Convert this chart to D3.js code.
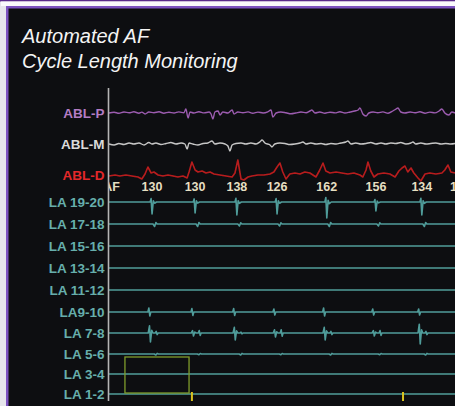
<!DOCTYPE html>
<html>
<head>
<meta charset="utf-8">
<script src="https://cdn.jsdelivr.net/npm/d3@7"></script>
<style>
  html, body { margin: 0; padding: 0; background: #e6e5ec; }
  svg { display: block; }
</style>
</head>
<body>
<div id="chart"></div>
<script>
const width = 455, height = 406;

const titleLines = ["Automated AF", "Cycle Length Monitoring"];
const ablChannels = ["ABL-P", "ABL-M", "ABL-D"];
const laChannels = ["LA 19-20", "LA 17-18", "LA 15-16", "LA 13-14", "LA 11-12",
                    "LA9-10", "LA 7-8", "LA 5-6", "LA 3-4", "LA 1-2"];

// window shown, ms
const timeWindow = [0, 1085];

// local activation times (ms) on LA 19-20
const activations = [135, 270, 401, 527, 683, 837, 981];

// cycle length annotations
const cycleTimes = [8, 135, 270, 401, 527, 683, 837, 981, 1102];
const cycleText = ["AF", "130", "130", "138", "126", "162", "156", "134", "148"];

// ablation catheter, [ms, amplitude]
const ablP = [[0,0],[16,0.8],[31,-0.3],[47,1],[63,0.2],[78,1.2],[94,-0.2],[103,0.9],[113,-1],[125,1],[141,0.3],[157,1.2],
  [172,-0.2],[188,0.8],[204,0],[219,1.1],[235,0.2],[241,4],[248,-5],[254,1],[266,0],[282,1.2],[298,0.1],[314,1],[320,-1],
  [326,-6],[332,1],[342,2],[348,-2],[357,1],[373,0],[386,3],[392,-1],[404,1],[420,0.2],[436,1.1],[451,-0.2],[467,0.9],
  [483,0],[498,1.2],[508,3],[514,-4],[524,0],[539,1],[555,0.2],[571,-0.8],[586,0],[602,1],[618,0.3],[630,2],[636,3],
  [646,0],[661,1],[677,-0.2],[693,0.8],[709,0.1],[724,1.2],[740,0],[756,1],[771,2],[781,3],[787,5],[796,-1],[806,-3],
  [815,0],[828,1],[843,0.2],[859,1.1],[875,-0.2],[890,2],[900,4],[906,5],[915,1],[928,0],[944,1],[959,0.2],[975,1.2],
  [991,-0.2],[1006,0.9],[1022,0.1],[1035,2],[1044,4],[1053,0],[1066,-2],[1075,1],[1085,0]];

const ablM = [[0,0],[16,-1],[31,0.5],[47,-0.5],[63,1],[78,0],[94,1],[110,-1],[125,1.5],[135,0],[147,1],[163,-0.5],
  [179,0.5],[194,1.5],[210,0],[226,1],[238,0],[245,-5],[251,1],[263,0],[279,-1],[295,0.5],[310,1],[323,3],[332,0],
  [348,1],[364,0],[373,-2],[379,-7],[386,-1],[398,0.5],[414,1],[429,0],[445,1],[461,0],[473,2],[480,4],[489,1],[505,-1],
  [511,-3],[520,0],[536,1],[552,0.5],[567,-0.5],[583,0],[599,1],[608,2],[618,0],[633,1],[649,0],[665,0.5],[680,-0.5],
  [696,0.5],[712,0],[727,1],[743,2],[749,3],[759,0],[774,1],[790,0],[806,0.5],[821,1.5],[837,0],[853,1],[868,0],
  [884,1],[900,0.5],[915,1.5],[931,0],[947,1],[953,2],[962,0],[978,1],[994,0],[1009,0.5],[1025,1],[1041,0],[1056,0.5],
  [1072,0],[1085,0.5]];

const ablD = [[0,-1],[19,0],[34,-1],[53,0],[72,-1],[91,-2],[103,-4],[113,1],[122,8],[132,2],[141,3],[154,0],[169,-1],
  [185,0],[201,-1],[216,-2],[232,-1],[245,-3],[251,3],[260,13],[270,5],[279,3],[292,4],[304,2],[317,3],[329,1],[348,0],
  [367,-1],[386,-2],[395,2],[404,15],[414,-4],[423,-5],[436,-2],[448,-1],[467,0],[486,0],[505,1],[517,3],[527,8],
  [536,12],[545,3],[555,-4],[567,1],[583,2],[599,1],[614,3],[630,2],[649,-2],[661,5],[671,12],[680,4],[693,2],[712,3],
  [730,2],[749,1],[768,2],[787,0],[796,-2],[806,5],[812,13],[821,4],[831,-2],[843,1],[862,2],[881,1],[897,-2],[909,4],
  [919,7],[928,9],[937,3],[947,7],[956,2],[969,-3],[978,-6],[991,1],[1006,2],[1025,1],[1044,2],[1053,5],[1063,10],
  [1072,3],[1085,2]];

// LA electrogram shapes, [ms from activation, relative amplitude]
const sharpShape = [[-6,0],[-3,0.28],[0,-1],[4,0.1],[8,-0.1],[14,0]];
const smallShape = [[-5,0],[0,-1],[4,0.6],[8,0]];
const biphasicShape = [[-5,0],[-2,1],[1,-1],[4,0]];
const fracShape = [[-8,0],[-4,0.8],[-1,-1],[3,0.3],[7,0]];
const fracTail = [[14,0],[17,0.8],[20,-0.8],[23,0]];

// per-beat amplitudes read from each channel
const la1920Amp = [12, 11, 13, 12, 16, 9, 13];
const la1718Amp = [2.5, 2.5, 2, 2, 2.5, 2, 2.5];
const la910Amp = [4, 3.5, 3.5, 3, 4, 3, 3];
const la78Amp = [9, 3, 7, 4, 7, 3, 11];
const la78TailAmp = [2, 3, 1, 4, 2, 3, 2];
const la56Amp = [1, 0.8, 1, 0.8, 1, 0.8, 1];

// selection window and event marks
const selectionWindow = [50, 251];
const eventMarks = [260, 922];

const laParts = {
  "LA 19-20": [{ shape: sharpShape, amp: la1920Amp, lag: 0 }],
  "LA 17-18": [{ shape: smallShape, amp: la1718Amp, lag: 8 }],
  "LA9-10": [{ shape: biphasicShape, amp: la910Amp, lag: -8 }],
  "LA 7-8": [{ shape: fracShape, amp: la78Amp, lag: -4 }, { shape: fracTail, amp: la78TailAmp, lag: -4 }],
  "LA 5-6": [{ shape: smallShape, amp: la56Amp, lag: 12 }]
};

const colors = {
  "ABL-P": { label: "#b47cc4", trace: "#9c5cb0" },
  "ABL-M": { label: "#dadada", trace: "#c6c6c6" },
  "ABL-D": { label: "#e3282a", trace: "#b81c1e" }
};
const laColor = { label: "#66aeac", trace: "#4f9c9a" };

const svg = d3.select("#chart").append("svg")
  .attr("width", width).attr("height", height)
  .attr("viewBox", [0, 0, width, height]);

// frame
svg.append("rect").attr("width", width).attr("height", height).attr("fill", "#e6e5ec");
svg.append("rect").attr("width", width).attr("height", 1.5).attr("fill", "#5a2a8c");
svg.append("rect").attr("x", 1).attr("y", 1.5).attr("width", width).attr("height", 4.5).attr("fill", "#fafafc");
svg.append("rect").attr("x", 6).attr("y", 6).attr("width", width).attr("height", height).attr("fill", "#7c52c0");
svg.append("rect").attr("x", 8.5).attr("y", 8.5).attr("width", width).attr("height", height).attr("fill", "#0d0e11");

svg.append("g")
  .selectAll("text")
  .data(titleLines)
  .join("text")
    .attr("x", 22)
    .attr("y", (d, i) => 43 + i * 25)
    .attr("fill", "#f4f4f4")
    .attr("font-family", "Liberation Sans, Arial, sans-serif")
    .attr("font-style", "italic")
    .attr("font-size", 20)
    .text(d => d);

const plotLeft = 108.5, plotRight = width;

const xScale = d3.scaleLinear()
  .domain(timeWindow)
  .range([109, 455]);

const ablY = d3.scalePoint()
  .domain(ablChannels)
  .range([113, 175]);

const laY = d3.scaleLinear()
  .domain([0, 5, 7, 9])
  .range([202, 312, 354, 394]);

const allChannels = ablChannels.concat(laChannels);
const rowY = d3.scaleOrdinal()
  .domain(allChannels)
  .range(ablChannels.map(c => ablY(c)).concat(laChannels.map((c, i) => laY(i))));

const ampScale = d3.scaleLinear().domain([-20, 20]).range([20, -20]);

svg.append("defs").append("clipPath").attr("id", "plot")
  .append("rect").attr("x", plotLeft).attr("y", 9).attr("width", plotRight - plotLeft).attr("height", height);
const soft = svg.select("defs").append("filter").attr("id", "soft");
soft.append("feGaussianBlur").attr("stdDeviation", 0.35);

const plot = svg.append("g").attr("clip-path", "url(#plot)");
const traces = plot.append("g").attr("filter", "url(#soft)");

const buildLA = (channel) => {
  const pts = [[timeWindow[0], 0], [timeWindow[1], 0]];
  (laParts[channel] || []).forEach(part => {
    activations.forEach((a, i) => {
      part.shape.forEach(([dt, rel]) => pts.push([a + part.lag + dt, rel * part.amp[i]]));
    });
  });
  return pts.sort((p, q) => p[0] - q[0]);
};

const traceData = [
  { channel: "ABL-P", points: ablP, color: colors["ABL-P"].trace, w: 1.4, curve: d3.curveMonotoneX },
  { channel: "ABL-M", points: ablM, color: colors["ABL-M"].trace, w: 1.4, curve: d3.curveMonotoneX },
  { channel: "ABL-D", points: ablD, color: colors["ABL-D"].trace, w: 1.6, curve: d3.curveLinear }
].concat(laChannels.map(c => ({ channel: c, points: buildLA(c), color: laColor.trace, w: 1.6, curve: d3.curveLinear })));

traces.selectAll("path")
  .data(traceData)
  .join("path")
    .attr("fill", "none")
    .attr("stroke", d => d.color)
    .attr("stroke-width", d => d.w)
    .attr("stroke-linejoin", "round")
    .attr("d", d => d3.line()
      .curve(d.curve)
      .x(p => xScale(p[0]))
      .y(p => rowY(d.channel) + ampScale(p[1]))(d.points));

// cycle length labels
plot.append("g")
  .selectAll("text")
  .data(cycleTimes)
  .join("text")
    .attr("x", d => xScale(d))
    .attr("y", 191)
    .attr("text-anchor", "middle")
    .attr("fill", "#e6dfc2")
    .attr("font-family", "Liberation Sans, Arial, sans-serif")
    .attr("font-weight", "bold")
    .attr("font-size", 12.5)
    .text((d, i) => cycleText[i]);

// selection box and event marks
plot.append("rect")
  .attr("x", xScale(selectionWindow[0]))
  .attr("y", laY(7) + 3)
  .attr("width", xScale(selectionWindow[1]) - xScale(selectionWindow[0]))
  .attr("height", laY(9) - 1 - (laY(7) + 3))
  .attr("fill", "none")
  .attr("stroke", "#7f9c2c")
  .attr("stroke-width", 1.3);

plot.append("g")
  .selectAll("line")
  .data(eventMarks)
  .join("line")
    .attr("x1", d => xScale(d)).attr("x2", d => xScale(d))
    .attr("y1", laY(9) - 2).attr("y2", laY(9) + 7)
    .attr("stroke", "#d9c21e")
    .attr("stroke-width", 2);

// channel labels
const leftAxis = d3.axisLeft(rowY).tickSize(0).tickPadding(4);
const axisG = svg.append("g")
  .attr("transform", `translate(${plotLeft}, 0)`)
  .call(leftAxis);
axisG.select(".domain").remove();
axisG.selectAll("text")
  .attr("font-family", "Liberation Sans, Arial, sans-serif")
  .attr("font-weight", "bold")
  .attr("font-size", 13.5)
  .attr("fill", d => colors[d] ? colors[d].label : laColor.label);

svg.append("line")
  .attr("x1", plotLeft).attr("x2", plotLeft)
  .attr("y1", 88).attr("y2", 401)
  .attr("stroke", "#b4b4b4")
  .attr("stroke-width", 1.6);
</script>
</body>
</html>
